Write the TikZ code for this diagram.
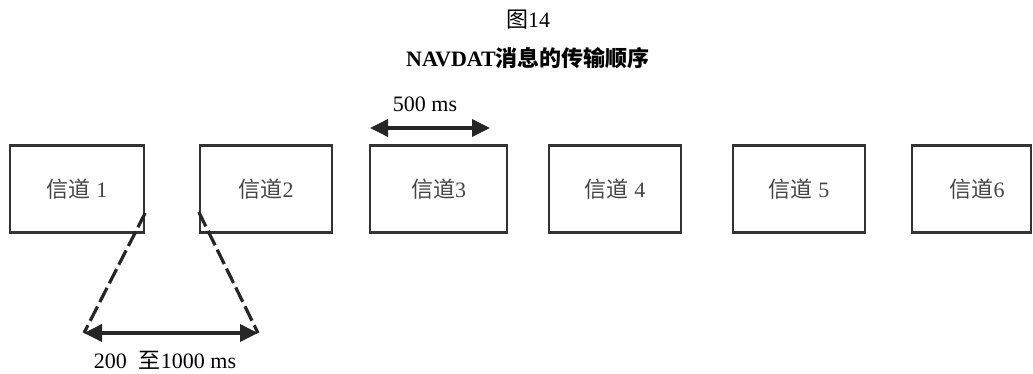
\documentclass[tikz,border=0pt]{standalone}
\usepackage{fontspec}
\setmainfont{Liberation Serif}
\newfontfamily\cjk{Noto Sans CJK SC}
\usetikzlibrary{arrows.meta}
\definecolor{boxgray}{HTML}{333333}
\definecolor{textgray}{HTML}{444444}
\definecolor{linegray}{HTML}{262626}
\begin{document}
\begin{tikzpicture}[x=1pt,y=-1pt,
  every node/.style={font=\fontsize{22}{26}\selectfont,inner sep=0pt},
  chan/.style={draw=boxgray,line width=2.4pt,minimum height=87pt,text=textgray},
  dim/.style={line width=3.6pt,draw=linegray,{Triangle[length=18pt,width=17pt]}-{Triangle[length=18pt,width=17pt]}},
  gap/.style={line width=3.2pt,draw=linegray,dash pattern=on 16pt off 5pt}
]
\useasboundingbox (0,0) rectangle (1033,374);
\node (fig) at (528,20) {{\cjk 图}14};
\node (title) at (528,58) {\bfseries NAVDAT{\cjk 消息的传输顺序}};

\node[chan,minimum width=134pt] (box1) at (77,189) {{\cjk 信道} 1};
\node[chan,minimum width=132pt] (box2) at (266,189) {{\cjk 信道}2};
\node[chan,minimum width=137pt] (box3) at (438.5,189) {{\cjk 信道}3};
\node[chan,minimum width=132pt] (box4) at (615,189) {{\cjk 信道} 4};
\node[chan,minimum width=132pt] (box5) at (799,189) {{\cjk 信道} 5};
\node[chan,minimum width=119pt] (box6) at (971.5,189) {\hspace*{11pt}{\cjk 信道}6};

\node (t500) at (425,104) {500 ms};
\coordinate (a1) at (370,128);
\coordinate (a2) at (490,128);
\draw[dim] (a1) -- (a2);

\coordinate (b1) at (84,333);
\coordinate (b2) at (258,333);
\draw[dim] (b1) -- (b2);
\node (t200) at (165,360) {200\hspace{12pt}{\cjk 至}1000 ms};

\draw[gap] ([yshift=-24pt]box1.east) -- (b1);
\draw[gap] ([yshift=-23pt]box2.west) -- (b2);
\end{tikzpicture}
\end{document}
